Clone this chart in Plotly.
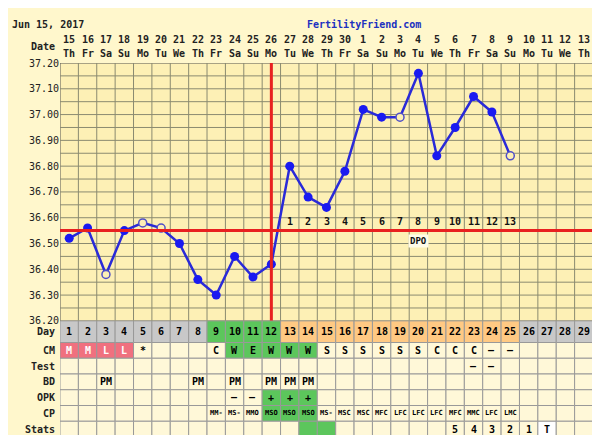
import plotly.graph_objects as go

dates = ["15","16","17","18","19","20","21","22","23","24","25","26","27","28","29","30","1","2","3","4","5","6","7","8","9","10","11","12","13"]
weekdays = ["Th","Fr","Sa","Su","Mo","Tu","We","Th","Fr","Sa","Su","Mo","Tu","We","Th","Fr","Sa","Su","Mo","Tu","We","Th","Fr","Sa","Su","Mo","Tu","We","Th"]
cycle_days = list(range(1, 30))
temp_days = list(range(1, 26))
temps = [36.52,36.56,36.38,36.55,36.58,36.56,36.50,36.36,36.30,36.45,36.37,36.42,36.80,36.68,36.64,36.78,37.02,36.99,36.99,37.16,36.84,36.95,37.07,37.01,36.84]
open_days = [3,5,6,19,25]
coverline = 36.55
ovulation_day = 12
dpo_labels = [str(i) for i in range(1,14)]
ch = ["M","M","L","L","*","","","","C","W","E","W","W","W","S","S","S","S","S","S","C","C","C","–","–","","","",""]
test = [""]*22 + ["–","–"] + [""]*5
bd = ["","","PM","","","","","PM","","PM","","PM","PM","PM"] + [""]*15
opk = [""]*9 + ["–","–","+","+","+"] + [""]*15
cp = [""]*8 + ["MM-","MS-","MMO","MSO","MSO","MSO","MS-","MSC","MSC","MFC","LFC","LFC","LFC","MFC","MMC","LFC","LMC","","","",""]
stats = [""]*21 + ["5","4","3","2","1","T","",""]
row_names = ["Day","CM","Test","BD","OPK","CP","Stats"]
right_letters = ["D","C","T","B","O","C","S"]

BG = "#FFF7CC"; CELL = "#FFF8D8"; PLOT = "#FDF0B5"
GREY = "#C8C8C8"; GREEN = "#5CC65C"; ORANGE = "#FFC983"; PINK = "#F0707F"
FONT = "DejaVu Sans Mono"
FS = 10

fig = go.Figure()
TOP, H = 55, 380
tab_h = 118
bounds = [0, 22, 38, 54, 70, 86, 102, 118]

shapes = []
annots = []
def cell_color(r, d):
    if r == 0:
        if 9 <= d <= 12: return GREEN
        if 13 <= d <= 25: return ORANGE
        return GREY
    if r == 1:
        if d <= 4: return PINK
        if 10 <= d <= 14: return GREEN
    if r == 4 and 12 <= d <= 14: return GREEN
    if r == 5 and 12 <= d <= 14: return GREEN
    if r == 6:
        if d in (14, 15): return GREEN
        if d == 27: return "#FFFFFF"
    return CELL

rows = [[str(d) for d in cycle_days], ch, test, bd, opk, cp, stats]
for r in range(7):
    y0, y1 = bounds[r], bounds[r+1]
    for d in cycle_days:
        shapes.append(dict(type="rect", xref="x", yref="y2", x0=d-0.5, x1=d+0.5, y0=y0, y1=y1,
                           fillcolor=cell_color(r, d), line=dict(color="#999", width=1), layer="below"))
        txt = rows[r][d-1]
        if txt:
            sz = 7 if r == 5 else FS
            col = "white" if (r == 1 and d <= 4) else "black"
            annots.append(dict(x=d, y=(y0+y1)/2, xref="x", yref="y2", text=f"<b>{txt}</b>", showarrow=False,
                               font=dict(size=sz, color=col, family=FONT)))
    annots.append(dict(x=0.5, y=(y0+y1)/2, xref="x", yref="y2", text=f"<b>{row_names[r]}</b>", showarrow=False,
                       xanchor="right", xshift=-3, font=dict(size=FS, family=FONT, color="#222")))
    annots.append(dict(x=29.5, y=(y0+y1)/2, xref="x", yref="y2", text=f"<b>{right_letters[r]}</b>", showarrow=False,
                       xanchor="left", xshift=2, font=dict(size=FS, family=FONT, color="#222")))

shapes.append(dict(type="rect", xref="x", yref="y", x0=0.5, x1=29.5, y0=36.2, y1=37.2,
                   fillcolor=PLOT, line=dict(color="#555", width=1), layer="below"))
for d in range(1, 29):
    shapes.append(dict(type="line", xref="x", yref="y", x0=d+0.5, x1=d+0.5, y0=36.2, y1=37.2,
                       line=dict(color="#8a8a70", width=1), layer="below"))
for i in range(1, 20):
    v = 36.2 + i*0.05
    shapes.append(dict(type="line", xref="x", yref="y", x0=0.5, x1=29.5, y0=v, y1=v,
                       line=dict(color="#8a8a70", width=1), layer="below"))
shapes.append(dict(type="line", xref="x", yref="y", x0=0.5, x1=29.5, y0=coverline, y1=coverline,
                   line=dict(color="#E82020", width=3)))
shapes.append(dict(type="line", xref="x", yref="y", x0=ovulation_day, x1=ovulation_day, y0=36.2, y1=37.2,
                   line=dict(color="#E82020", width=3)))

for d in cycle_days:
    annots.append(dict(x=d, y=1, xref="x", yref="paper", yshift=31, text=f"<b>{dates[d-1]}</b>", showarrow=False,
                       font=dict(size=FS, family=FONT, color="#222")))
    annots.append(dict(x=d, y=1, xref="x", yref="paper", yshift=17, text=f"<b>{weekdays[d-1]}</b>", showarrow=False,
                       font=dict(size=FS, family=FONT, color="#222")))
annots.append(dict(x=0.5, y=1, xref="x", yref="paper", yshift=24, xanchor="right", xshift=-3, text="<b>Date</b>",
                   showarrow=False, font=dict(size=FS, family=FONT, color="#222")))
annots.append(dict(x=0, y=1, xref="paper", yref="paper", xanchor="left", xshift=-50, yshift=46, text="<b>Jun 15, 2017</b>",
                   showarrow=False, font=dict(size=FS, family=FONT, color="#222")))
annots.append(dict(x=0.57, y=1, xref="paper", yref="paper", yshift=46, text="<b>FertilityFriend.com</b>",
                   showarrow=False, font=dict(size=FS, family=FONT, color="#2030C0")))
for i in range(11):
    v = 36.2 + i*0.1
    annots.append(dict(x=29.5, y=v, xref="x", yref="y", xanchor="left", xshift=2, text="<b>3</b>",
                       showarrow=False, font=dict(size=FS, family=FONT, color="#222")))
for i, lab in enumerate(dpo_labels):
    annots.append(dict(x=13+i, y=36.585, xref="x", yref="y", text=f"<b>{lab}</b>", showarrow=False,
                       font=dict(size=FS, family=FONT, color="#111")))
annots.append(dict(x=20, y=36.51, xref="x", yref="y", text="<b>DPO</b>", showarrow=False, bgcolor="#FFFBE8",
                   font=dict(size=9, family=FONT, color="#111")))

fig.add_trace(go.Scatter(x=temp_days, y=temps, mode="lines", line=dict(color="#2A2AD8", width=2.5),
                         hoverinfo="skip", showlegend=False))
filled = [(d, t) for d, t in zip(temp_days, temps) if d not in open_days]
opened = [(d, t) for d, t in zip(temp_days, temps) if d in open_days]
fig.add_trace(go.Scatter(x=[p[0] for p in filled], y=[p[1] for p in filled], mode="markers",
                         marker=dict(color="#1A1AF0", size=9), showlegend=False))
fig.add_trace(go.Scatter(x=[p[0] for p in opened], y=[p[1] for p in opened], mode="markers",
                         marker=dict(color=PLOT, size=8, line=dict(color="#5050C8", width=1.5)), showlegend=False))
fig.add_trace(go.Scatter(x=[1], y=[0], yaxis="y2", mode="markers", marker=dict(opacity=0), showlegend=False, hoverinfo="skip"))

fig.update_layout(
    width=600, height=435, margin=dict(l=52, r=15, t=TOP, b=0),
    paper_bgcolor=BG, plot_bgcolor=BG, shapes=shapes, annotations=annots, showlegend=False,
    xaxis=dict(range=[0.5, 29.5], showgrid=False, zeroline=False, showticklabels=False, fixedrange=True),
    yaxis=dict(domain=[tab_h/H, 1], range=[36.2, 37.2], tickvals=[round(36.2+i*0.1, 2) for i in range(11)],
               tickformat=".2f", showgrid=False, zeroline=False, ticks="",
               tickfont=dict(size=FS, family=FONT, color="#222")),
    yaxis2=dict(domain=[0, tab_h/H], range=[tab_h, 0], showgrid=False, zeroline=False, showticklabels=False),
)
fig.write_html("out.html")
